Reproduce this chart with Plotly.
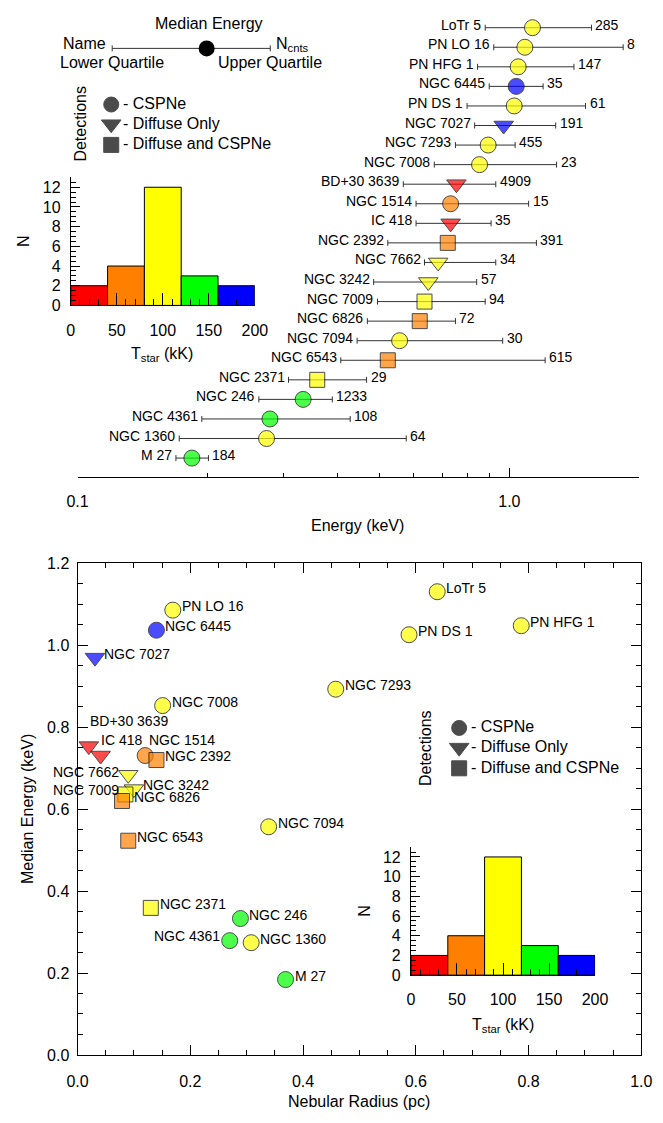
import numpy as np
import plotly.graph_objects as go

W, H = 663, 1123

# ---------------- data ----------------
names = ["LoTr 5", "PN LO 16", "PN HFG 1", "NGC 6445", "PN DS 1", "NGC 7027",
         "NGC 7293", "NGC 7008", "BD+30 3639", "NGC 1514", "IC 418", "NGC 2392",
         "NGC 7662", "NGC 3242", "NGC 7009", "NGC 6826", "NGC 7094", "NGC 6543",
         "NGC 2371", "NGC 246", "NGC 4361", "NGC 1360", "M 27"]
median_kev = [1.131, 1.086, 1.048, 1.037, 1.026, 0.970, 0.893, 0.853, 0.754, 0.731,
              0.731, 0.720, 0.684, 0.649, 0.636, 0.620, 0.557, 0.523, 0.359, 0.333,
              0.279, 0.274, 0.184]
lower_q = [0.879, 0.920, 0.844, 0.898, 0.798, 0.831, 0.750, 0.670, 0.568, 0.608,
           0.608, 0.523, 0.636, 0.485, 0.495, 0.469, 0.444, 0.407, 0.308, 0.263,
           0.194, 0.172, 0.169]
upper_q = [1.549, 1.834, 1.411, 1.197, 1.501, 1.280, 1.031, 1.286, 0.930, 1.108,
           0.907, 1.155, 0.930, 0.840, 0.879, 0.750, 0.965, 1.210, 0.467, 0.389,
           0.428, 0.577, 0.201]
n_counts = [285, 8, 147, 35, 61, 191, 455, 23, 4909, 15, 35, 391, 34, 57, 94, 72,
            30, 615, 29, 1233, 108, 64, 184]
radius_pc = [0.638, 0.169, 0.787, 0.140, 0.588, 0.031, 0.458, 0.151, 0.020, 0.120,
             0.041, 0.140, 0.090, 0.100, 0.085, 0.079, 0.339, 0.090, 0.130, 0.289,
             0.270, 0.308, 0.369]
# detection type: C = CSPNe, D = diffuse only, B = diffuse and CSPNe
detection = ["C", "C", "C", "C", "C", "D", "C", "C", "D", "C", "D", "B",
             "D", "D", "B", "B", "C", "B", "B", "C", "C", "C", "C"]
# T_star bin index (0-40, 40-80, 80-120, 120-160, 160-200 kK)
tstar_bin = [2, 2, 2, 4, 2, 4, 2, 2, 0, 1, 0, 1, 2, 2, 2, 1, 2, 1, 2, 3, 3, 2, 3]
bin_edges = [0, 40, 80, 120, 160, 200]
hist_counts = [2, 4, 12, 3, 2]

# ---------------- styles ----------------
FONT = "Liberation Sans, Arial, Helvetica, sans-serif"
bin_colors = ["#FF0000", "#FF8000", "#FFFF00", "#00FF00", "#0000FF"]
sym_map = {"C": "circle", "D": "triangle-down", "B": "square"}
size_map = {"C": 16, "D": 17, "B": 15}

# label placement (bottom panel): xanchor, xshift, yshift
lab_default = ("left", 7, 4)
lab_special = {
    "BD+30 3639": ("left", -1, 25),
    "IC 418": ("left", -2, 16),
    "NGC 1514": ("left", 2, 16),
    "NGC 7662": ("right", -7, 3),
    "NGC 7009": ("right", -4, 4),
    "NGC 4361": ("right", -8, 5),
    "NGC 6826": ("left", 10, 4),
}


def px(x):
    return x / W


def py(y):
    return 1 - y / H


colors = [bin_colors[b] for b in tstar_bin]
symbols = [sym_map[d] for d in detection]
sizes = [size_map[d] for d in detection]
rows = list(range(len(names)))

fig = go.Figure()

# ---- top panel: quartile ranges vs energy ----
fig.add_trace(go.Scatter(
    x=median_kev, y=rows, mode="markers",
    marker=dict(color=colors, symbol=symbols, size=sizes,
                line=dict(color="black", width=1)),
    error_x=dict(type="data", symmetric=False,
                 array=[u - m for u, m in zip(upper_q, median_kev)],
                 arrayminus=[m - l for m, l in zip(median_kev, lower_q)],
                 color="#333333", thickness=1, width=3),
    xaxis="x", yaxis="y", showlegend=False, cliponaxis=False))

# ---- top inset histogram ----
centers = [(a + b) / 2 for a, b in zip(bin_edges[:-1], bin_edges[1:])]
widths = [b - a for a, b in zip(bin_edges[:-1], bin_edges[1:])]
fig.add_trace(go.Bar(x=centers, y=hist_counts, width=widths,
                     marker=dict(color=bin_colors, line=dict(color="black", width=1)),
                     xaxis="x3", yaxis="y3", showlegend=False))

# ---- bottom panel scatter ----
fig.add_trace(go.Scatter(
    x=radius_pc, y=median_kev, mode="markers",
    marker=dict(color=colors, symbol=symbols, size=sizes,
                line=dict(color="black", width=1)),
    xaxis="x2", yaxis="y2", showlegend=False, cliponaxis=False))

# ---- bottom inset histogram ----
fig.add_trace(go.Bar(x=centers, y=hist_counts, width=widths,
                     marker=dict(color=bin_colors, line=dict(color="black", width=1)),
                     xaxis="x4", yaxis="y4", showlegend=False))

# ---- legend key markers on a pixel overlay axis ----
leg_sym = ["circle", "triangle-down", "square"]
leg_txt = ["- CSPNe", "- Diffuse Only", "- Diffuse and CSPNe"]
leg_top = dict(x=104, ys=[98, 118, 139], tx=114)
leg_bot = dict(x=465, ys=[731, 751, 772], tx=475)
for L in (leg_top, leg_bot):
    fig.add_trace(go.Scatter(
        x=[L["x"]] * 3, y=L["ys"], mode="markers",
        marker=dict(color="black", symbol=leg_sym, size=[15, 17, 15],
                    line=dict(color="black", width=1)),
        xaxis="x5", yaxis="y5", showlegend=False, hoverinfo="skip"))
# median-energy key
fig.add_trace(go.Scatter(
    x=[203], y=[41], mode="markers",
    marker=dict(color="black", symbol="circle", size=16),
    error_x=dict(type="data", symmetric=False, array=[66], arrayminus=[98],
                 color="#333333", thickness=1, width=3),
    xaxis="x5", yaxis="y5", showlegend=False, hoverinfo="skip"))

ann = []


def text(x, y, s, size=16, xanchor="center", angle=0):
    ann.append(dict(x=px(x), y=py(y), xref="paper", yref="paper", text=s,
                    showarrow=False, xanchor=xanchor, yanchor="middle",
                    textangle=angle, font=dict(family=FONT, size=size, color="black")))


# top panel name / count labels
for i, (n, lo, hi, c) in enumerate(zip(names, lower_q, upper_q, n_counts)):
    ann.append(dict(x=np.log10(lo), y=i, xref="x", yref="y", text=n, showarrow=False,
                    xanchor="right", yanchor="middle", xshift=-2, yshift=3,
                    font=dict(family=FONT, size=14, color="black")))
    ann.append(dict(x=np.log10(hi), y=i, xref="x", yref="y", text=str(c), showarrow=False,
                    xanchor="left", yanchor="middle", xshift=2, yshift=3,
                    font=dict(family=FONT, size=14, color="black")))

# bottom panel name labels
for n, r, e in zip(names, radius_pc, median_kev):
    xa, dx, dy = lab_special.get(n, lab_default)
    ann.append(dict(x=r, y=e, xref="x2", yref="y2", text=n, showarrow=False,
                    xanchor=xa, yanchor="middle", xshift=dx, yshift=dy,
                    font=dict(family=FONT, size=14, color="black")))

# key texts
text(205, 16, "Median Energy")
text(101, 36, "Name", xanchor="right")
text(273, 37, "N<sub>cnts</sub>", xanchor="left")
text(105, 55, "Lower Quartile")
text(269, 55, "Upper Quartile")
for L in (leg_top, leg_bot):
    for yy, t in zip(L["ys"], leg_txt):
        text(L["tx"], yy - 1, t, size=16, xanchor="left")
text(72, 117, "Detections", angle=-90)
text(430, 751, "Detections", angle=-90)

# axis titles
text(360, 525, "Energy (keV)")
text(361, 1110, "Nebular Radius (pc)")
text(17, 813, "Median Energy (keV)", angle=-90)
text(157, 352, "T<sub>star</sub> (kK)")
text(510, 1033, "T<sub>star</sub> (kK)")
text(13, 237, "N", angle=-90)
text(366, 917, "N", angle=-90)

tickfont = dict(family=FONT, size=16, color="black")
row_top, row_bot = 20.0, 457.0
step = (row_bot - row_top) / (len(names) - 1)
yr_bot = (476 - row_top) / step
yr_top = (0 - row_top) / step

fig.update_layout(
    width=W, height=H, margin=dict(l=0, r=0, t=0, b=0),
    paper_bgcolor="white", plot_bgcolor="rgba(0,0,0,0)",
    annotations=ann,
    xaxis=dict(domain=[px(69), px(652)], type="log", range=[-1, np.log10(2.0)],
               showline=True, linecolor="black", linewidth=1, ticks="inside",
               tickvals=[0.1, 1.0], ticktext=["0.1", "1.0"], ticklen=9,
               tickcolor="black", showgrid=False, zeroline=False,
               tickfont=tickfont, ticklabelstandoff=10, anchor="y",
               minor=dict(tickmode="array",
                          tickvals=[0.2, 0.3, 0.4, 0.5, 0.6, 0.7, 0.8, 0.9, 2.0],
                          ticks="inside", ticklen=4, tickcolor="black", showgrid=False)),
    yaxis=dict(domain=[py(476), 1], range=[yr_bot, yr_top], visible=False,
               showgrid=False, zeroline=False, anchor="x"),
    xaxis2=dict(domain=[px(69), px(654)], range=[0, 1.0], showline=True,
                linecolor="black", linewidth=1, mirror="ticks", ticks="inside",
                dtick=0.2, tick0=0, tickformat=".1f", ticklen=10, tickcolor="black",
                showgrid=False, zeroline=False, tickfont=tickfont,
                ticklabelstandoff=12, anchor="y2",
                minor=dict(dtick=0.05, ticks="inside", ticklen=5, tickcolor="black",
                           showgrid=False)),
    yaxis2=dict(domain=[py(1063), py(564)], range=[0, 1.2], showline=True,
                linecolor="black", linewidth=1, mirror="ticks", ticks="inside",
                dtick=0.2, tick0=0, tickformat=".1f", ticklen=10, tickcolor="black",
                showgrid=False, zeroline=False, tickfont=tickfont,
                ticklabelstandoff=4, anchor="x2",
                minor=dict(dtick=0.05, ticks="inside", ticklen=5, tickcolor="black",
                           showgrid=False)),
    xaxis3=dict(domain=[px(62), px(253)], range=[0, 200], showline=True,
                linecolor="black", linewidth=1, ticks="inside", dtick=50, tick0=0,
                ticklen=12, tickcolor="black", showgrid=False, zeroline=False,
                tickfont=tickfont, ticklabelstandoff=10, anchor="y3",
                minor=dict(dtick=10, ticks="inside", ticklen=6, tickcolor="black",
                           showgrid=False)),
    yaxis3=dict(domain=[py(302), py(172)], range=[0, 13], showline=True,
                linecolor="black", linewidth=1, ticks="inside", dtick=2, tick0=0,
                ticklen=9, tickcolor="black", showgrid=False, zeroline=False,
                tickfont=tickfont, ticklabelstandoff=6, anchor="x3",
                minor=dict(dtick=0.5, ticks="inside", ticklen=5, tickcolor="black",
                           showgrid=False)),
    xaxis4=dict(domain=[px(415), px(606)], range=[0, 200], showline=True,
                linecolor="black", linewidth=1, ticks="inside", dtick=50, tick0=0,
                ticklen=12, tickcolor="black", showgrid=False, zeroline=False,
                tickfont=tickfont, ticklabelstandoff=10, anchor="y4",
                minor=dict(dtick=10, ticks="inside", ticklen=6, tickcolor="black",
                           showgrid=False)),
    yaxis4=dict(domain=[py(982), py(852)], range=[0, 13], showline=True,
                linecolor="black", linewidth=1, ticks="inside", dtick=2, tick0=0,
                ticklen=9, tickcolor="black", showgrid=False, zeroline=False,
                tickfont=tickfont, ticklabelstandoff=6, anchor="x4",
                minor=dict(dtick=0.5, ticks="inside", ticklen=5, tickcolor="black",
                           showgrid=False)),
    xaxis5=dict(domain=[0, 1], range=[0, W], visible=False, anchor="y5",
                fixedrange=True),
    yaxis5=dict(domain=[0, 1], range=[H, 0], visible=False, anchor="x5",
                fixedrange=True),
)

fig.write_html("out.html")
